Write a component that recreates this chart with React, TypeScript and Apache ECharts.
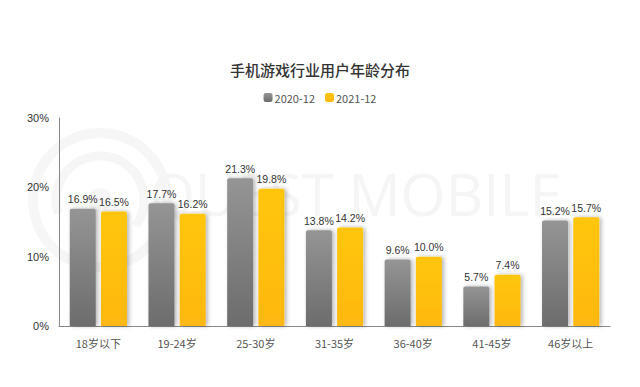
import React, { useEffect, useRef } from "react";
import * as echarts from "echarts";

const categories = ["18岁以下", "19-24岁", "25-30岁", "31-35岁", "36-40岁", "41-45岁", "46岁以上"];
const series2020 = [16.9, 17.7, 21.3, 13.8, 9.6, 5.7, 15.2];
const series2021 = [16.5, 16.2, 19.8, 14.2, 10.0, 7.4, 15.7];
const seriesNames = ["2020-12", "2021-12"];
const yTicks = [0, 10, 20, 30];

export default function App() {
  const ref = useRef<HTMLDivElement>(null);
  useEffect(() => {
    document.body.style.margin = "0";
    if (!ref.current) return;
    const chart = echarts.init(ref.current, null, { renderer: "svg" });
    const font = "'Noto Sans CJK SC', 'Noto Sans', sans-serif";
    const numFont = "Arial, 'Liberation Sans', sans-serif";
    const labelCfg = {
      show: true,
      position: "top" as const,
      distance: 4,
      color: "#333",
      fontSize: 10.5,
      fontFamily: numFont,
      formatter: (p: any) => p.value.toFixed(1) + "%",
    };
    chart.setOption({
      animation: false,
      backgroundColor: "#fff",
      title: {
        text: "手机游戏行业用户年龄分布",
        left: "center",
        top: 57,
        textStyle: { fontSize: 15, fontWeight: 500, color: "#333", fontFamily: font },
      },
      legend: {
        top: 87,
        left: "center",
        itemWidth: 9,
        itemHeight: 9,
        itemGap: 10,
        icon: "roundRect",
        textStyle: { fontSize: 11, color: "#555", fontFamily: font, padding: [0, 0, 0, -3] },
        data: seriesNames,
      },
      graphic: [
        {
          type: "ring",
          shape: { cx: 100, cy: 200, r: 72, r0: 62 },
          style: { fill: "#f6f6f6" },
          z: -1,
          silent: true,
        },
        {
          type: "arc",
          shape: { cx: 100, cy: 200, r: 44, startAngle: Math.PI * 0.9, endAngle: Math.PI * 2.2 },
          style: { stroke: "#f6f6f6", lineWidth: 9, fill: "none" },
          z: -1,
          silent: true,
        },
        {
          type: "circle",
          shape: { cx: 100, cy: 200, r: 12 },
          style: { fill: "#f6f6f6" },
          z: -1,
          silent: true,
        },
        {
          type: "text",
          x: 150,
          y: 164,
          style: {
            text: "QUEST MOBILE",
            fontSize: 58,
            fontFamily: "'Open Sans', sans-serif",
            fill: "#f5f5f5",
          },
          z: -1,
          silent: true,
        },
      ],
      grid: { left: 59, right: 30, top: 118, bottom: 61 },
      xAxis: {
        type: "category",
        data: categories,
        axisLine: { lineStyle: { color: "#888", width: 1 } },
        axisTick: { show: false },
        axisLabel: { color: "#555", fontSize: 11, margin: 11, fontFamily: font },
      },
      yAxis: {
        type: "value",
        min: yTicks[0],
        max: yTicks[yTicks.length - 1],
        interval: 10,
        axisLine: { show: true, lineStyle: { color: "#888", width: 1 } },
        axisTick: { show: false },
        splitLine: { show: false },
        axisLabel: {
          color: "#333",
          fontSize: 11,
          margin: 10,
          fontFamily: numFont,
          formatter: (v: number) => v + "%",
        },
      },
      series: [
        {
          name: seriesNames[0],
          type: "bar",
          data: series2020,
          barWidth: 26,
          barGap: "20%",
          label: labelCfg,
          itemStyle: {
            borderRadius: [2, 2, 0, 0],
            color: new echarts.graphic.LinearGradient(0, 0, 0, 1, [
              { offset: 0, color: "#959595" },
              { offset: 1, color: "#6c6c6c" },
            ]),
            shadowColor: "rgba(0,0,0,0.3)",
            shadowBlur: 4,
            shadowOffsetX: 2,
          },
        },
        {
          name: seriesNames[1],
          type: "bar",
          data: series2021,
          barWidth: 26,
          label: labelCfg,
          itemStyle: {
            borderRadius: [2, 2, 0, 0],
            color: new echarts.graphic.LinearGradient(0, 0, 0, 1, [
              { offset: 0, color: "#ffc60a" },
              { offset: 1, color: "#ffb812" },
            ]),
            shadowColor: "rgba(0,0,0,0.3)",
            shadowBlur: 4,
            shadowOffsetX: 2,
          },
        },
      ],
    });
    return () => chart.dispose();
  }, []);
  return <div ref={ref} style={{ width: 640, height: 387 }} />;
}
